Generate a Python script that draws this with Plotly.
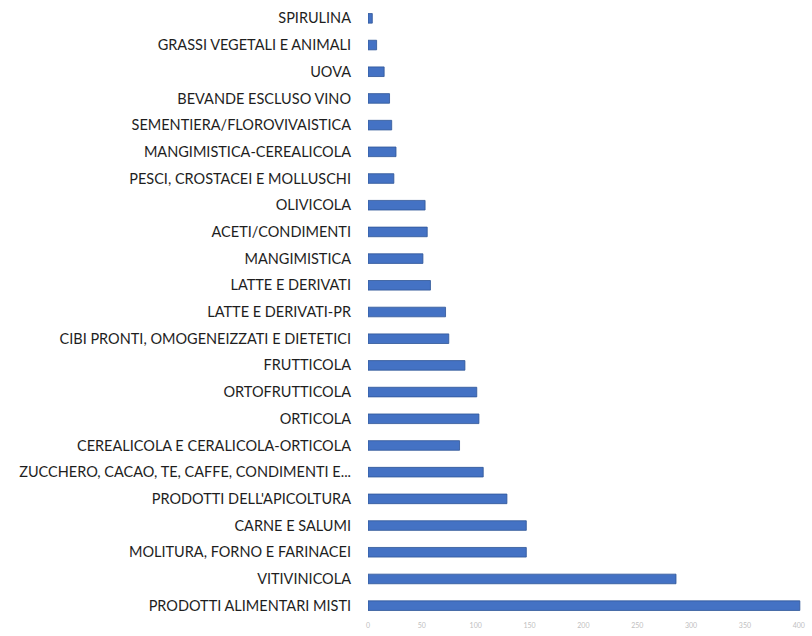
import plotly.graph_objects as go

categories = [
    "PRODOTTI ALIMENTARI MISTI",
    "VITIVINICOLA",
    "MOLITURA, FORNO E FARINACEI",
    "CARNE E SALUMI",
    "PRODOTTI DELL'APICOLTURA",
    "ZUCCHERO, CACAO, TE, CAFFE, CONDIMENTI E...",
    "CEREALICOLA E CERALICOLA-ORTICOLA",
    "ORTICOLA",
    "ORTOFRUTTICOLA",
    "FRUTTICOLA",
    "CIBI PRONTI, OMOGENEIZZATI E DIETETICI",
    "LATTE E DERIVATI-PR",
    "LATTE E DERIVATI",
    "MANGIMISTICA",
    "ACETI/CONDIMENTI",
    "OLIVICOLA",
    "PESCI, CROSTACEI E MOLLUSCHI",
    "MANGIMISTICA-CEREALICOLA",
    "SEMENTIERA/FLOROVIVAISTICA",
    "BEVANDE ESCLUSO VINO",
    "UOVA",
    "GRASSI VEGETALI E ANIMALI",
    "SPIRULINA",
]
values = [401, 286, 147, 147, 129, 107, 85, 103, 101, 90, 75, 72, 58, 51, 55, 53, 24, 26, 22, 20, 15, 8, 4]
x_ticks = [0, 50, 100, 150, 200, 250, 300, 350, 400]

fig = go.Figure(
    go.Bar(
        y=categories,
        x=values,
        orientation="h",
        width=0.36,
        marker=dict(color="#4472C4", line=dict(color="#2F5597", width=0.8)),
    )
)

fig.update_layout(
    width=812,
    height=636,
    margin=dict(l=368, r=10, t=5, b=17),
    paper_bgcolor="white",
    plot_bgcolor="white",
    showlegend=False,
    font=dict(family="Lato, Open Sans, sans-serif", color="#1e1e1e"),
)
fig.update_yaxes(
    type="category",
    range=[-0.5, len(categories) - 0.5],
    automargin=False,
    showgrid=False,
    zeroline=False,
    showline=False,
    ticks="",
    ticklabelstandoff=16,
    tickfont=dict(size=14.5, color="#1e1e1e"),
)
fig.update_xaxes(
    range=[0, 403],
    automargin=False,
    tickvals=x_ticks,
    ticktext=[str(v) for v in x_ticks],
    showgrid=False,
    zeroline=False,
    showline=False,
    ticks="",
    ticklabelstandoff=1,
    tickfont=dict(size=7, color="#c0c0c0"),
)

fig.write_html(
    "out.html",
    config={"displayModeBar": False},
    post_script="document.body.style.margin='0';document.body.style.overflow='hidden';",
)
